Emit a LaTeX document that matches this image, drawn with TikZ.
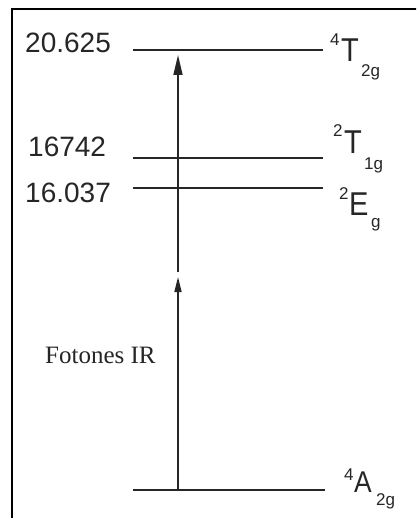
\documentclass[tikz,border=0pt]{standalone}
\usepackage{fontspec}
\setmainfont{Liberation Sans}
\newfontfamily\seriffont{Liberation Serif}
\usetikzlibrary{arrows.meta}
\tikzset{
  lvl/.style={line width=1.6pt, draw=black!85},
  ax/.style={line width=1.6pt, draw=black!85},
  nm/.style={inner sep=0pt, anchor=base west, text=black!85, font=\fontsize{28}{28}\selectfont},
  big/.style={inner sep=0pt, anchor=base west, text=black!85, font=\fontsize{33}{33}\selectfont},
  sml/.style={inner sep=0pt, anchor=base west, text=black!85, font=\fontsize{17}{17}\selectfont},
}
\newcommand{\narrow}[1]{\scalebox{0.88}[1]{#1}}
\begin{document}
\begin{tikzpicture}[x=1pt,y=-1pt]
\useasboundingbox (0,0) rectangle (416,518);
\fill[white] (0,0) rectangle (416,518);
\begin{scope}
\clip (0,0) rectangle (416,518);
\draw[line width=2.6pt] (12,540) -- (12,9) -- (440,9);
\end{scope}

% level coordinates
\coordinate (a1) at (133,50);  \coordinate (a2) at (323,50);
\coordinate (b1) at (133,158); \coordinate (b2) at (323,158);
\coordinate (c1) at (133,188); \coordinate (c2) at (323,188);
\coordinate (d1) at (133,490); \coordinate (d2) at (325,490);
\draw[lvl] (a1) -- (a2);
\draw[lvl] (b1) -- (b2);
\draw[lvl] (c1) -- (c2);
\draw[lvl] (d1) -- (d2);

% energy values
\node[nm] (v1) at (25,53) {20.625};
\node[nm] (v2) at (28,157) {16742};
\node[nm] (v3) at (25,203) {16.037};

% term symbols
\node[sml] (t1s) at (330,46) {4};
\node[big] (t1) at (341,62) {\narrow{T}};
\node[sml] (t1b) at (361,77) {2g};

\node[sml] (t2s) at (333,137) {2};
\node[big] (t2) at (344,154) {\narrow{T}};
\node[sml] (t2b) at (364,170) {1g};

\node[sml] (t3s) at (339,200) {2};
\node[big] (t3) at (349,216) {\narrow{E}};
\node[sml] (t3b) at (371,227) {g};

\node[sml] (t4s) at (344,480) {4};
\node[big, font=\fontsize{30}{30}\selectfont] (t4) at (354,492) {\narrow{A}};
\node[sml] (t4b) at (376,505) {2g};

% arrows
\coordinate (g) at (178,490);
\coordinate (m1) at (178,277);
\coordinate (m2) at (178,272);
\coordinate (t) at (178,55);
\draw[ax, -{Triangle[length=15pt 0 0, width=7pt 0 0]}] (g) -- (m1);
\draw[ax, -{Triangle[length=20pt 0 0, width=9pt 0 0]}] (m2) -- (t);

\node[inner sep=0pt, anchor=base west, text=black!85, font=\seriffont\fontsize{25}{25}\selectfont] (fot) at (45,363) {Fotones IR};
\end{tikzpicture}
\end{document}
